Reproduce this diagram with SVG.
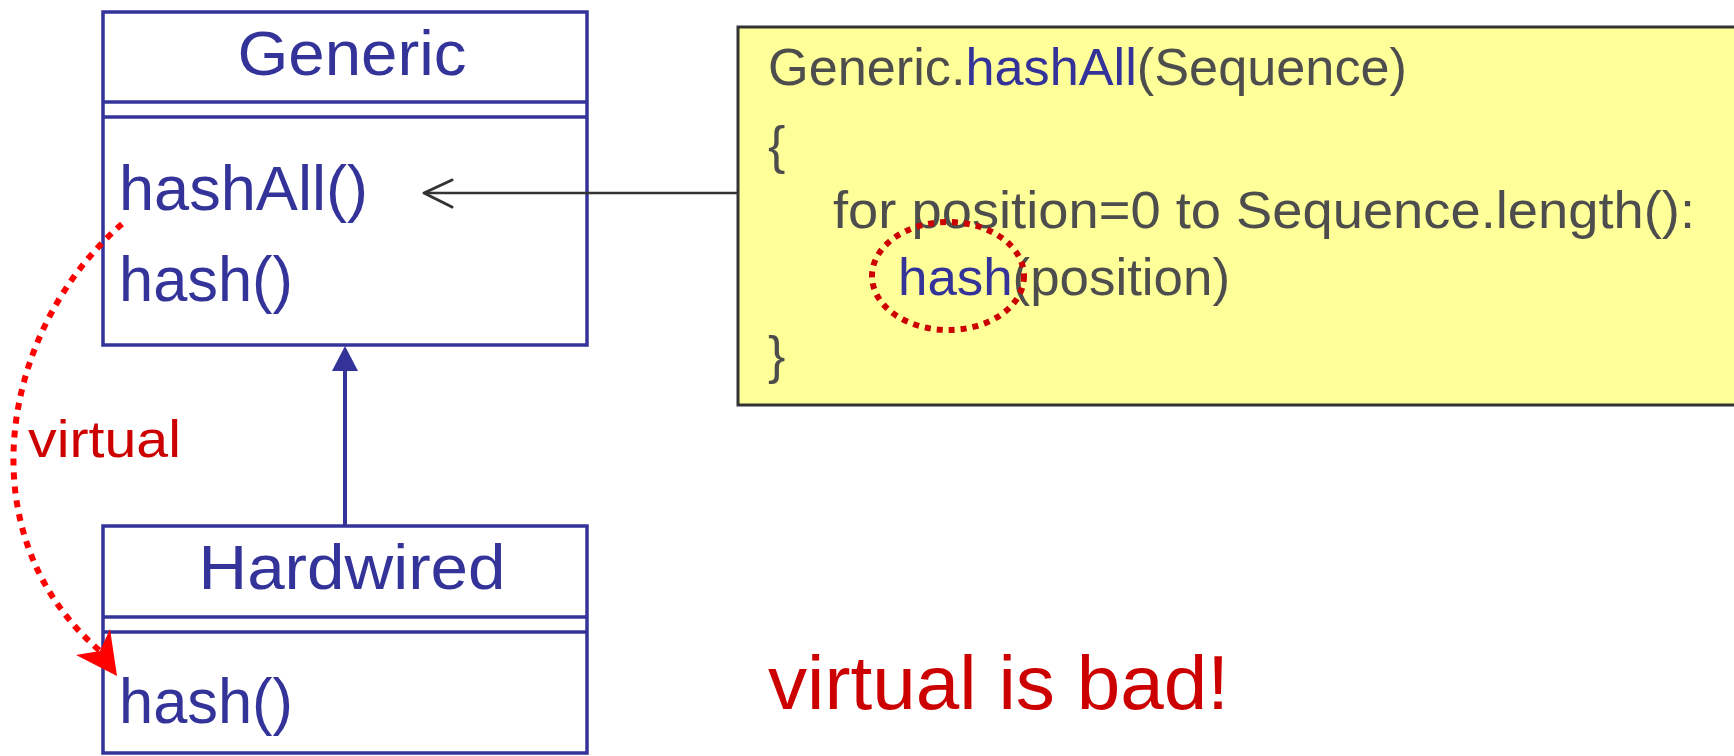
<svg xmlns="http://www.w3.org/2000/svg" width="1734" height="756" viewBox="0 0 1734 756">
<style>
.box{fill:#ffffff;stroke:#333399;stroke-width:3.5}
.div{stroke:#333399;stroke-width:3.5}
.cls{font-family:"Liberation Sans",Arial,sans-serif;fill:#333399;font-size:63px}
.code{font-family:"Liberation Sans",Arial,sans-serif;fill:#4d4d4d;font-size:52px}
.blue{fill:#333399}
.red{font-family:"Liberation Sans",Arial,sans-serif;fill:#cc0000}
</style>
<rect width="1734" height="756" fill="#ffffff"/>
<g id="note">
<rect x="738" y="27" width="1010" height="378" fill="#ffff99" stroke="#333333" stroke-width="3"/>
<text class="code" x="768" y="85" textLength="639" lengthAdjust="spacingAndGlyphs">Generic.<tspan class="blue">hashAll</tspan>(Sequence)</text>
<text class="code" x="768" y="163">{</text>
<text class="code" x="833" y="228" textLength="862" lengthAdjust="spacingAndGlyphs">for position=0 to Sequence.length():</text>
<text class="code" x="898" y="295" textLength="332" lengthAdjust="spacingAndGlyphs"><tspan class="blue">hash</tspan>(position)</text>
<text class="code" x="768" y="373">}</text>
<ellipse cx="948" cy="276" rx="76" ry="54" fill="none" stroke="#cc0000" stroke-width="6" stroke-dasharray="6 6"/>
</g>
<g id="generic">
<rect class="box" x="103" y="12" width="484" height="333"/>
<line class="div" x1="103" y1="102" x2="587" y2="102"/>
<line class="div" x1="103" y1="117" x2="587" y2="117"/>
<text class="cls" x="352" y="75" text-anchor="middle" textLength="229" lengthAdjust="spacingAndGlyphs">Generic</text>
<text class="cls" x="119" y="210" textLength="249" lengthAdjust="spacingAndGlyphs">hashAll()</text>
<text class="cls" x="119" y="301" textLength="174" lengthAdjust="spacingAndGlyphs">hash()</text>
</g>
<g id="hardwired">
<rect class="box" x="103" y="526" width="484" height="227"/>
<line class="div" x1="103" y1="617" x2="587" y2="617"/>
<line class="div" x1="103" y1="632" x2="587" y2="632"/>
<text class="cls" x="352" y="589" text-anchor="middle" textLength="307" lengthAdjust="spacingAndGlyphs">Hardwired</text>
<text class="cls" x="119" y="723" textLength="174" lengthAdjust="spacingAndGlyphs">hash()</text>
</g>
<g id="connectors">
<line x1="738" y1="193" x2="425" y2="193" stroke="#333333" stroke-width="2.5"/>
<polyline points="452,180 424,193 452,207" fill="none" stroke="#333333" stroke-width="3" stroke-linecap="round" stroke-linejoin="round"/>
<line x1="345" y1="526" x2="345" y2="365" stroke="#333399" stroke-width="4"/>
<polygon points="345,346 332,371 358,371" fill="#333399"/>
<path d="M122,224 C0,330 -35,535 100,651" fill="none" stroke="#ff0000" stroke-width="6" stroke-dasharray="7 7"/>
<polygon points="117,676 76,655 100,651 110,629" fill="#ff0000"/>
<text class="red" x="28" y="457" font-size="52" textLength="153" lengthAdjust="spacingAndGlyphs">virtual</text>
</g>
<text class="red" x="768" y="709" font-size="76" textLength="461" lengthAdjust="spacingAndGlyphs">virtual is bad!</text>
</svg>
